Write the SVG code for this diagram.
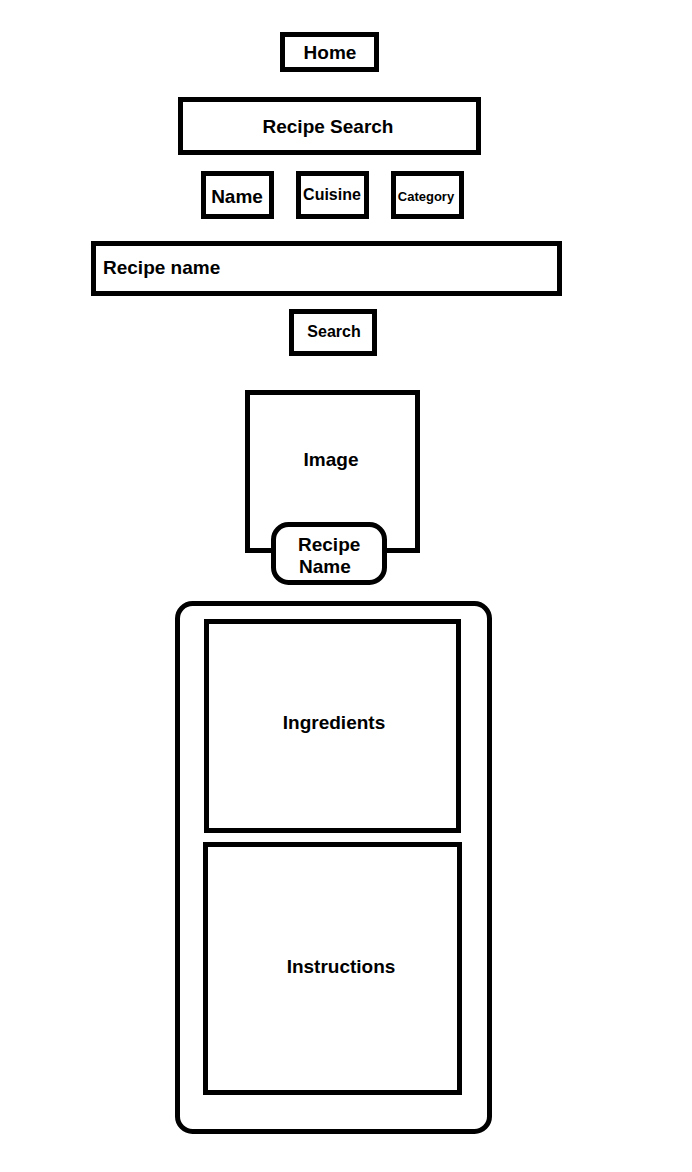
<svg xmlns="http://www.w3.org/2000/svg" width="692" height="1172" viewBox="0 0 692 1172">
<style>
.box{fill:#fff;stroke:#000;stroke-width:5}
.t{font-family:"Liberation Sans",Arial,sans-serif;font-weight:bold;fill:#000}
.c{text-anchor:middle}
</style>
<rect width="692" height="1172" fill="#fff"/>
<g id="connectors"/>
<g id="home"><rect class="box" x="282.5" y="34.5" width="94" height="35"/><text class="t c" x="330" y="59" font-size="19">Home</text></g>
<g id="recipe-search"><rect class="box" x="180.5" y="99.5" width="298" height="53"/><text class="t c" x="328" y="133" font-size="19">Recipe Search</text></g>
<g id="name"><rect class="box" x="203.5" y="173.5" width="68" height="43"/><text class="t c" x="237" y="203" font-size="19">Name</text></g>
<g id="cuisine"><rect class="box" x="298.5" y="173.5" width="68" height="43"/><text class="t c" x="332" y="200" font-size="16">Cuisine</text></g>
<g id="category"><rect class="box" x="393.5" y="173.5" width="68" height="43"/><text class="t c" x="426" y="201" font-size="13">Category</text></g>
<g id="recipe-name-input"><rect class="box" x="93.5" y="243.5" width="466" height="50"/><text class="t" x="103" y="274" font-size="19">Recipe name</text></g>
<g id="search"><rect class="box" x="291.5" y="311.5" width="83" height="42"/><text class="t c" x="334" y="337" font-size="16">Search</text></g>
<g id="image"><rect class="box" x="247.5" y="392.5" width="170" height="158"/><text class="t c" x="331" y="466" font-size="19">Image</text></g>
<g id="recipe-name"><rect class="box" x="273.5" y="524.5" width="111" height="58" rx="15"/><text class="t" x="298" y="551" font-size="19">Recipe</text><text class="t" x="299" y="573" font-size="19">Name</text></g>
<g id="details"><rect class="box" x="177.5" y="603.5" width="312" height="528" rx="15"/></g>
<g id="ingredients"><rect class="box" x="206.5" y="621.5" width="252" height="209"/><text class="t c" x="334" y="729" font-size="19">Ingredients</text></g>
<g id="instructions"><rect class="box" x="205.5" y="844.5" width="254" height="248"/><text class="t c" x="341" y="973" font-size="19">Instructions</text></g>
</svg>
